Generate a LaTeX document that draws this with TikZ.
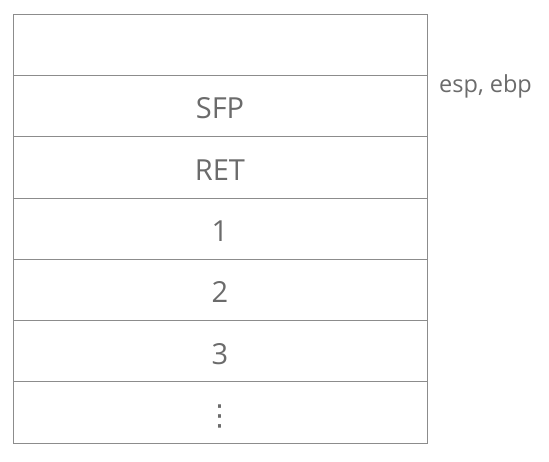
\documentclass[tikz,border=0pt]{standalone}
\usepackage{fontspec}
\setmainfont{Open Sans}
\newfontfamily\symfont{DejaVu Sans}
\usetikzlibrary{positioning}
\definecolor{framegray}{HTML}{8C8C8C}
\definecolor{textgray}{HTML}{6B6B6B}
\begin{document}
\begin{tikzpicture}
		[x=1pt,y=-1pt,
		cell/.style={draw=framegray,line width=0.8pt,minimum width=414pt,
minimum height=61.3pt,inner sep=0pt,outer sep=0pt,text=textgray,
text height=26pt,text depth=0pt,font=\fontsize{29}{29}\selectfont},
		reglabel/.style={text=textgray,anchor=base west,inner sep=0pt,font=\fontsize{23.5}{23.5}\selectfont}]
		\useasboundingbox (0,0) rectangle (549,461);
		\node at (220, 44.65) (top) [cell] {};
		\node (sfp) [cell,below=0pt of top] {SFP};
		\node (ret) [cell,below=0pt of sfp] {RET};
		\node (arg1) [cell,below=0pt of ret] {1};
		\node (arg2) [cell,below=0pt of arg1] {2};
		\node (arg3) [cell,below=0pt of arg2] {3};
		\node (more) [cell,below=0pt of arg3] {\symfont ⋮};
		% register pointing at the saved frame pointer
		\node (esp) [reglabel,right=12pt of top.south east,yshift=-11pt] {esp, ebp};
	\end{tikzpicture}
\end{document}
